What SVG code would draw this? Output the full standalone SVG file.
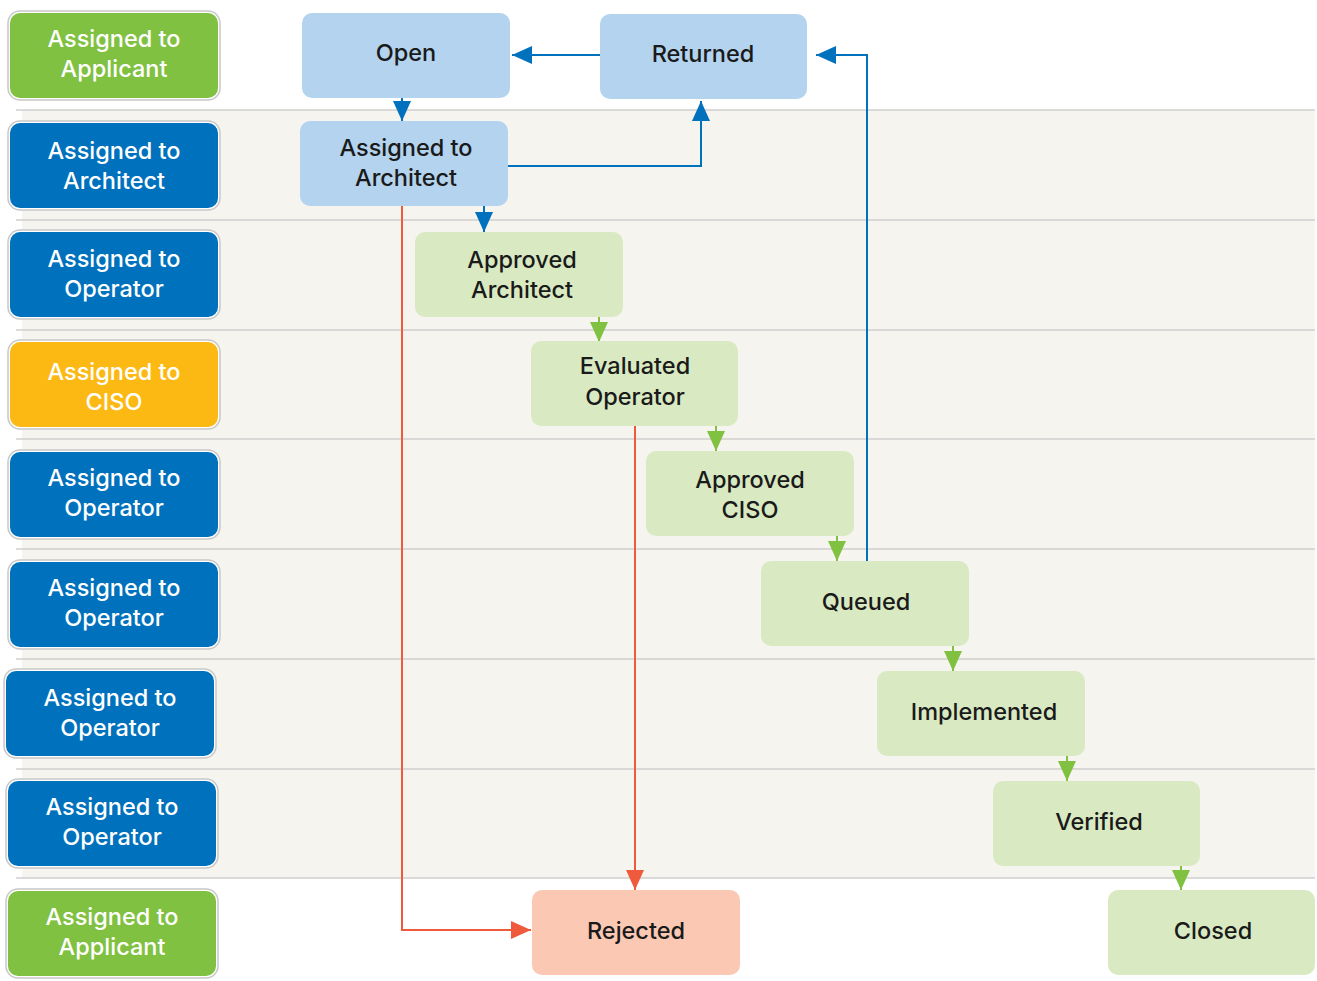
<svg xmlns="http://www.w3.org/2000/svg" width="1317" height="981" viewBox="0 0 1317 981">
<defs>
<style>
.lane{fill:#fff;stroke:#c8c8c8;stroke-width:1.5}
.lt{font-family:Inter,"Liberation Sans",sans-serif;font-size:23.5px;font-weight:500;fill:#fff;text-anchor:middle}
.nt{font-family:Inter,"Liberation Sans",sans-serif;font-size:23.5px;font-weight:500;fill:#1a1a1a;text-anchor:middle}
.blue{fill:#b3d3ee}
.green{fill:#d9eac3}
.red{fill:#fac8b3}
.sep{stroke:#cfcfcf;stroke-width:1.5}
.cb{fill:none;stroke:#0071bc;stroke-width:2}
.cg{fill:none;stroke:#80c141;stroke-width:2}
.cr{fill:none;stroke:#f05a3c;stroke-width:2}
</style>
<marker id="ab" markerUnits="userSpaceOnUse" markerWidth="20" markerHeight="20" refX="20" refY="10" orient="auto"><path d="M0,1 L20,10 L0,19 z" fill="#0071bc"/></marker>
<marker id="ag" markerUnits="userSpaceOnUse" markerWidth="20" markerHeight="20" refX="20" refY="10" orient="auto"><path d="M0,1 L20,10 L0,19 z" fill="#80c141"/></marker>
<marker id="ar" markerUnits="userSpaceOnUse" markerWidth="20" markerHeight="20" refX="20" refY="10" orient="auto"><path d="M0,1 L20,10 L0,19 z" fill="#f05a3c"/></marker>
</defs>
<rect width="1317" height="981" fill="#fff"/>
<rect x="22" y="110" width="1293" height="768" fill="#f5f4ef"/>
<g id="separators">
<line class="sep" x1="16" y1="110" x2="1315" y2="110"/>
<line class="sep" x1="16" y1="220" x2="1315" y2="220"/>
<line class="sep" x1="16" y1="330" x2="1315" y2="330"/>
<line class="sep" x1="16" y1="439" x2="1315" y2="439"/>
<line class="sep" x1="16" y1="549" x2="1315" y2="549"/>
<line class="sep" x1="16" y1="659" x2="1315" y2="659"/>
<line class="sep" x1="16" y1="769" x2="1315" y2="769"/>
<line class="sep" x1="16" y1="878" x2="1315" y2="878"/>
</g>
<g id="lane1"><rect class="lane" x="8" y="11" width="212" height="89" rx="12"/><rect x="10" y="13" width="208" height="85" rx="10" fill="#80c141"/><text class="lt" x="114" y="47">Assigned to</text><text class="lt" x="114" y="77">Applicant</text></g>
<g id="lane2"><rect class="lane" x="8" y="121" width="212" height="89" rx="12"/><rect x="10" y="123" width="208" height="85" rx="10" fill="#0071bc"/><text class="lt" x="114" y="159">Assigned to</text><text class="lt" x="114" y="189">Architect</text></g>
<g id="lane3"><rect class="lane" x="8" y="230" width="212" height="89" rx="12"/><rect x="10" y="232" width="208" height="85" rx="10" fill="#0071bc"/><text class="lt" x="114" y="267">Assigned to</text><text class="lt" x="114" y="297">Operator</text></g>
<g id="lane4"><rect class="lane" x="8" y="340" width="212" height="89" rx="12"/><rect x="10" y="342" width="208" height="85" rx="10" fill="#fdb913"/><text class="lt" x="114" y="380">Assigned to</text><text class="lt" x="114" y="410">CISO</text></g>
<g id="lane5"><rect class="lane" x="8" y="450" width="212" height="89" rx="12"/><rect x="10" y="452" width="208" height="85" rx="10" fill="#0071bc"/><text class="lt" x="114" y="486">Assigned to</text><text class="lt" x="114" y="516">Operator</text></g>
<g id="lane6"><rect class="lane" x="8" y="560" width="212" height="89" rx="12"/><rect x="10" y="562" width="208" height="85" rx="10" fill="#0071bc"/><text class="lt" x="114" y="596">Assigned to</text><text class="lt" x="114" y="626">Operator</text></g>
<g id="lane7"><rect class="lane" x="4" y="669" width="212" height="89" rx="12"/><rect x="6" y="671" width="208" height="85" rx="10" fill="#0071bc"/><text class="lt" x="110" y="706">Assigned to</text><text class="lt" x="110" y="736">Operator</text></g>
<g id="lane8"><rect class="lane" x="6" y="779" width="212" height="89" rx="12"/><rect x="8" y="781" width="208" height="85" rx="10" fill="#0071bc"/><text class="lt" x="112" y="815">Assigned to</text><text class="lt" x="112" y="845">Operator</text></g>
<g id="lane9"><rect class="lane" x="6" y="889" width="212" height="89" rx="12"/><rect x="8" y="891" width="208" height="85" rx="10" fill="#80c141"/><text class="lt" x="112" y="925">Assigned to</text><text class="lt" x="112" y="955">Applicant</text></g>
<g id="connectors">
<line class="cb" x1="600" y1="55" x2="512" y2="55" marker-end="url(#ab)"/>
<line class="cb" x1="402" y1="98" x2="402" y2="121" marker-end="url(#ab)"/>
<polyline class="cb" points="508,166 701,166 701,101" marker-end="url(#ab)"/>
<line class="cb" x1="484" y1="206" x2="484" y2="232" marker-end="url(#ab)"/>
<polyline class="cb" points="867,561 867,55 816,55" marker-end="url(#ab)"/>
<line class="cg" x1="599" y1="317" x2="599" y2="342" marker-end="url(#ag)"/>
<line class="cg" x1="716" y1="426" x2="716" y2="451" marker-end="url(#ag)"/>
<line class="cg" x1="837" y1="536" x2="837" y2="561" marker-end="url(#ag)"/>
<line class="cg" x1="953" y1="646" x2="953" y2="671" marker-end="url(#ag)"/>
<line class="cg" x1="1067" y1="756" x2="1067" y2="781" marker-end="url(#ag)"/>
<line class="cg" x1="1181" y1="866" x2="1181" y2="890" marker-end="url(#ag)"/>
<polyline class="cr" points="402,206 402,930 531,930" marker-end="url(#ar)"/>
<line class="cr" x1="635" y1="426" x2="635" y2="890" marker-end="url(#ar)"/>
</g>
<g id="open"><rect class="blue" x="302" y="13" width="208" height="85" rx="10"/><text class="nt" x="406" y="61">Open</text></g>
<g id="returned"><rect class="blue" x="600" y="14" width="207" height="85" rx="10"/><text class="nt" x="703" y="62">Returned</text></g>
<g id="assigned-architect"><rect class="blue" x="300" y="121" width="208" height="85" rx="10"/><text class="nt" x="406" y="156">Assigned to</text><text class="nt" x="406" y="186">Architect</text></g>
<g id="approved-architect"><rect class="green" x="415" y="232" width="208" height="85" rx="10"/><text class="nt" x="522" y="268">Approved</text><text class="nt" x="522" y="298">Architect</text></g>
<g id="evaluated-operator"><rect class="green" x="531" y="341" width="207" height="85" rx="10"/><text class="nt" x="635" y="374">Evaluated</text><text class="nt" x="635" y="405">Operator</text></g>
<g id="approved-ciso"><rect class="green" x="646" y="451" width="208" height="85" rx="10"/><text class="nt" x="750" y="488">Approved</text><text class="nt" x="750" y="518">CISO</text></g>
<g id="queued"><rect class="green" x="761" y="561" width="208" height="85" rx="10"/><text class="nt" x="866" y="610">Queued</text></g>
<g id="implemented"><rect class="green" x="877" y="671" width="208" height="85" rx="10"/><text class="nt" x="984" y="720">Implemented</text></g>
<g id="verified"><rect class="green" x="993" y="781" width="207" height="85" rx="10"/><text class="nt" x="1099" y="830">Verified</text></g>
<g id="rejected"><rect class="red" x="532" y="890" width="208" height="85" rx="10"/><text class="nt" x="636" y="939">Rejected</text></g>
<g id="closed"><rect class="green" x="1108" y="890" width="207" height="85" rx="10"/><text class="nt" x="1213" y="939">Closed</text></g>
</svg>
